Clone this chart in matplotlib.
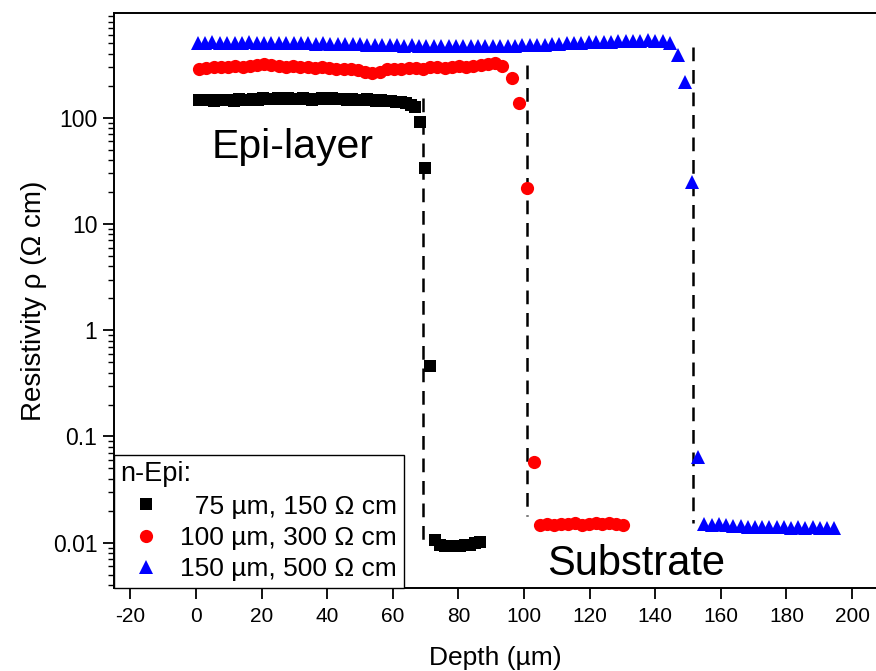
import matplotlib
matplotlib.use("Agg")
import matplotlib.pyplot as plt  # noqa: E402

plt.rcParams["font.family"] = ["Liberation Sans", "DejaVu Sans"]
plt.rcParams["axes.unicode_minus"] = False

# --- data ------------------------------------------------------------------
black_depth = [1.0, 2.5, 4.0, 5.5, 7.0, 8.5, 10.0, 11.5, 13.0, 14.5, 16.0, 17.5,
               19.0, 20.5, 22.0, 23.5, 25.0, 26.5, 28.0, 29.5, 31.0, 32.5, 34.0,
               35.5, 37.0, 38.5, 40.0, 41.5, 43.0, 44.5, 46.0, 47.5, 49.0, 50.5,
               52.0, 53.5, 55.0, 56.5, 58.0, 59.5, 61.0, 62.5, 64.0, 65.5,
               66.8, 68.3, 69.8, 71.3, 72.9,
               74.5, 76.0, 77.5, 79.0, 80.5, 82.0, 83.5, 85.0, 86.5]
black_rho = [148, 146, 147, 145, 146, 148, 147, 145, 149, 147, 146, 150,
             148, 154, 151, 149, 152, 150, 153, 151, 149, 152, 150,
             148, 151, 153, 150, 152, 149, 151, 148, 150, 148, 146,
             149, 147, 145, 147, 144, 145, 142, 140, 137, 132,
             126, 92, 34, 0.46, 0.0106,
             0.0095, 0.0093, 0.0093, 0.0094, 0.0093, 0.0095, 0.0096, 0.0099, 0.0101]

red_depth = [1.0, 3.2, 5.4, 7.6, 9.8, 12.0, 14.2, 16.4, 18.6, 20.8, 23.0, 25.2,
             27.4, 29.6, 31.8, 34.0, 36.2, 38.4, 40.6, 42.8, 45.0, 47.2, 49.4,
             51.6, 53.8, 56.0, 58.2, 60.4, 62.6, 64.8, 67.0, 69.2, 71.4, 73.6,
             75.8, 78.0, 80.2, 82.4, 84.6, 86.8, 89.0, 91.2, 93.4,
             96.3, 98.5, 100.9, 103.0,
             105.0, 107.1, 109.2, 111.3, 113.4, 115.5, 117.6, 119.7, 121.8,
             123.9, 126.0, 128.1, 130.2]
red_rho = [290, 295, 300, 298, 302, 305, 300, 308, 315, 318, 312, 306,
           302, 304, 300, 298, 295, 298, 292, 288, 285, 290, 280,
           272, 265, 272, 285, 290, 288, 295, 292, 288, 298, 302,
           296, 300, 308, 302, 305, 315, 322, 325, 305,
           236, 137, 22, 0.057,
           0.0148, 0.0150, 0.0146, 0.0150, 0.0149, 0.0152, 0.0148, 0.0151,
           0.0153, 0.0150, 0.0152, 0.0149, 0.0147]

blue_depth = [0.5, 2.75, 5.0, 7.25, 9.5, 11.75, 14.0, 16.25, 18.5, 20.75, 23.0,
              25.25, 27.5, 29.75, 32.0, 34.25, 36.5, 38.75, 41.0, 43.25, 45.5,
              47.75, 50.0, 52.25, 54.5, 56.75, 59.0, 61.25, 63.5, 65.75, 68.0,
              70.25, 72.5, 74.75, 77.0, 79.25, 81.5, 83.75, 86.0, 88.25, 90.5,
              92.75, 95.0, 97.25, 99.5, 101.75, 104.0, 106.25, 108.5, 110.75,
              113.0, 115.25, 117.5, 119.75, 122.0, 124.25, 126.5, 128.75, 131.0,
              133.25, 135.5, 137.75, 140.0, 142.25, 144.5,
              146.9, 149.1, 151.2, 153.0,
              155.0, 157.2, 159.4, 161.6, 163.8, 166.0, 168.2, 170.4, 172.6,
              174.8, 177.0, 179.2, 181.4, 183.6, 185.8, 188.0, 190.2, 192.4, 194.6]
blue_rho = [505, 510, 512, 508, 510, 506, 510, 512, 508, 505, 508,
            504, 506, 502, 500, 503, 498, 500, 496, 498, 494,
            490, 492, 488, 485, 482, 485, 480, 478, 482, 478,
            475, 478, 475, 472, 476, 472, 470, 474, 472, 476,
            474, 478, 476, 480, 484, 482, 488, 492, 496,
            500, 505, 508, 512, 515, 518, 520, 524, 522,
            528, 530, 535, 532, 528, 505,
            389, 216, 25, 0.064,
            0.0150, 0.0148, 0.0150, 0.0146, 0.0143, 0.0144, 0.0142, 0.0140, 0.0142,
            0.0141, 0.0140, 0.0142, 0.0139, 0.0141, 0.0139, 0.0140, 0.0138, 0.0139,
            0.0137]

# step positions (x, top, bottom) of the dashed guides
step_x = [69.2, 100.9, 151.5]
step_top = [153, 313, 467]
step_bottom = [0.0096, 0.018, 0.0153]

labels = ["  75 \u00b5m, 150 \u03a9 cm", "100 \u00b5m, 300 \u03a9 cm",
          "150 \u00b5m, 500 \u03a9 cm"]

# --- figure -------------------------------------------------------------------
fig = plt.figure(figsize=(8.76, 6.71), dpi=100)
ax = fig.add_axes([0.1301, 0.1237, 0.8699, 0.8573])

for x, top, bot in zip(step_x, step_top, step_bottom):
    ax.plot([x, x], [top, bot], color="black", lw=1.8,
            linestyle=(0, (5.5, 3.5)), zorder=2)

ax.plot(black_depth, black_rho, "s", color="black", ms=8, mew=0,
        label=labels[0], zorder=3)
ax.plot(red_depth, red_rho, "o", color="#ff0000", ms=9.5, mew=0,
        label=labels[1], zorder=3)
ax.plot(blue_depth, blue_rho, "^", color="#0000ff", ms=10, mew=0,
        label=labels[2], zorder=3)

ax.set_yscale("log")
ax.set_xlim(-25, 207.3)
ax.set_ylim(0.00375, 973)
ax.set_xticks(range(-20, 201, 20))
ax.set_yticks([0.01, 0.1, 1, 10, 100])
ax.set_yticklabels(["0.01", "0.1", "1", "10", "100"])

ax.spines["right"].set_visible(False)
for s in ("left", "bottom", "top"):
    ax.spines[s].set_linewidth(1.4)
ax.tick_params(axis="x", which="major", direction="out", length=8, width=1.3,
               labelsize=15, pad=6, top=False)
ax.tick_params(axis="y", which="major", direction="out", length=8, width=1.3,
               labelsize=16.5, pad=4, right=False)
ax.tick_params(axis="y", which="minor", direction="out", length=4.5, width=1.0,
               right=False)
ax.tick_params(axis="x", which="minor", bottom=False)

ax.set_xlabel("Depth (\u00b5m)", fontsize=19, labelpad=14)
ax.set_ylabel("Resistivity \u03c1 (\u03a9 cm)", fontsize=20, labelpad=4)

ax.text(4.9, 41.8, "Epi-layer", fontsize=29.5, ha="left", va="baseline")
ax.text(107, 0.00497, "Substrate", fontsize=30, ha="left", va="baseline")

leg = ax.legend(loc="lower left", bbox_to_anchor=(0, 0), borderaxespad=0,
                title="n-Epi:", title_fontsize=19.5, fontsize=19,
                alignment="left", fancybox=False, framealpha=1,
                edgecolor="black", handletextpad=0.3, handlelength=1.95,
                labelspacing=0.28, borderpad=0.25)
leg.get_frame().set_linewidth(1.0)

fig.savefig("out.png", dpi=100)
